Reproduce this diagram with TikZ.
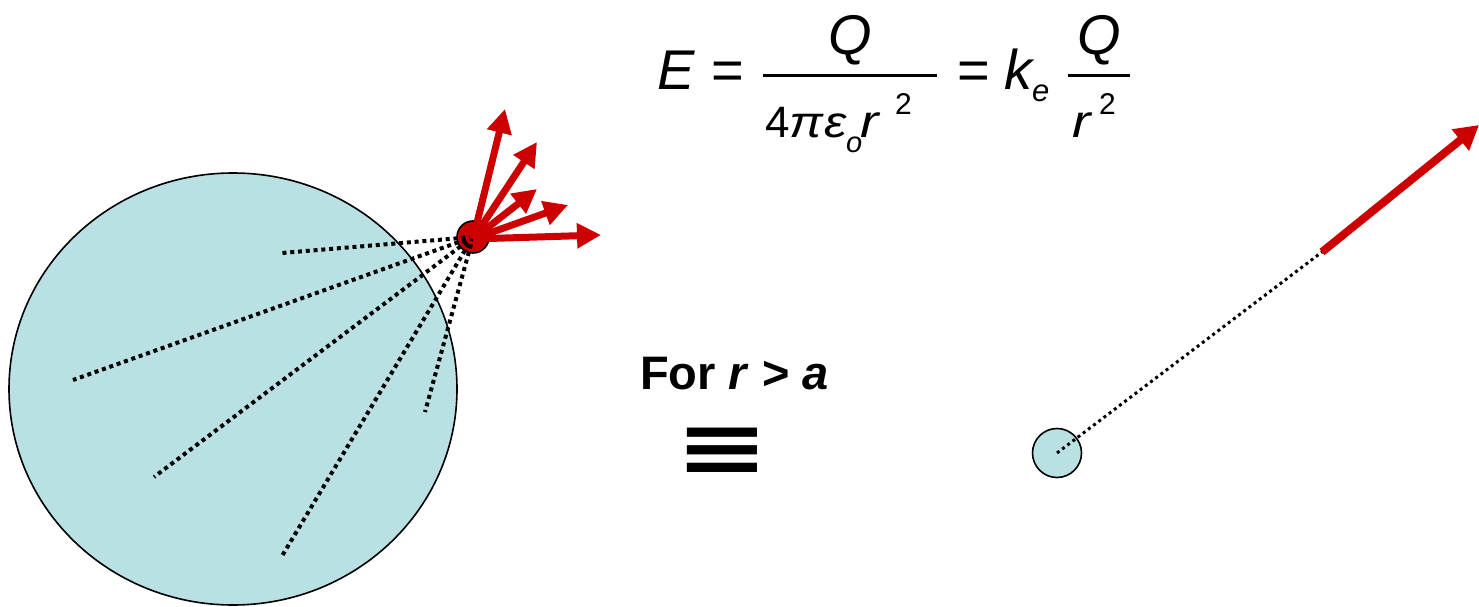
\documentclass[tikz,border=0pt]{standalone}
\usepackage{graphicx}
\usepackage{fontspec}
\setmainfont{Liberation Sans}
\newfontfamily\symfont{DejaVu Sans}
\usetikzlibrary{arrows.meta,shapes.geometric}
\definecolor{ball}{RGB}{185,224,227}
\definecolor{fieldred}{RGB}{204,0,0}
\newcommand\wideit[2]{\scalebox{#1}[1]{\textit{#2}}}
\tikzset{
  ballshape/.style={draw=black, line width=1.6pt, fill=ball},
  fieldline/.style={draw=black, line width=4pt, dash pattern=on 4pt off 3.8pt},
  fieldarrow/.style={draw=fieldred, line width=7pt, -{Triangle[length=24pt,width=24pt]}},
  eqbig/.style={inner sep=0pt, anchor=base, font=\fontsize{56}{60}\selectfont\itshape},
  eqmid/.style={inner sep=0pt, anchor=base west, font=\fontsize{44}{46}\selectfont},
  eqsmall/.style={inner sep=0pt, anchor=base west, font=\fontsize{30}{32}\selectfont},
  eqsign/.style={inner sep=0pt, font=\fontsize{56}{60}\selectfont},
  fracbar/.style={draw=black, line width=3pt},
}
\begin{document}
\begin{tikzpicture}[x=1pt,y=-1pt]
\useasboundingbox (0,0) rectangle (1479,607);
% big sphere
\node[ballshape, ellipse, minimum width=448pt, minimum height=432pt, inner sep=0pt] (sphere) at (233,389) {};
% test charge
\node[circle, draw=black, line width=1.6pt, fill=fieldred, minimum size=32pt, inner sep=0pt] (q) at (473,237) {};
% field lines from sphere elements
\coordinate (d1) at (282,253);
\coordinate (d2) at (73,380);
\coordinate (d3) at (154,477);
\coordinate (d4) at (282,556);
\coordinate (d5) at (425,412);
\foreach \d in {d1,d2,d3,d4,d5} \draw[fieldline] (q.center) -- (\d);
% field vectors
\coordinate (a1) at (505,109);
\coordinate (a2) at (537,142);
\coordinate (a3) at (537,189);
\coordinate (a4) at (568,205);
\coordinate (a5) at (601,235);
\foreach \a in {a1,a2,a3,a4,a5} \draw[fieldarrow] ([yshift=-2pt]q.center) -- (\a);
% equation  E = Q/(4 pi eps_o r^2) = k_e Q/r^2
\node[eqbig] (eE) at (676,90) {E};
\node[eqsign] (eq1) at (728,76) {=};
\coordinate (b1l) at (763,76);
\coordinate (b1r) at (937,76);
\draw[fracbar] (b1l) -- (b1r);
\node[eqbig] (eQ1) at (850,55) {Q};
\node[eqmid] (eden) at (765,137) {4\wideit{1.15}{π}\wideit{1.15}{ε}};
\node[eqsmall, font=\fontsize{29}{32}\selectfont\itshape] (eo) at (846,152) {o};
\node[eqmid, font=\fontsize{46}{48}\selectfont] (er1) at (860,137) {\wideit{1.2}{r}};
\node[eqsmall] (e21) at (895,115) {2};
\node[eqsign] (eq2) at (974,76) {=};
\node[eqbig, anchor=base west] (ek) at (1004,90) {k};
\node[eqsmall, font=\fontsize{31}{32}\selectfont\itshape] (ee) at (1032,102) {e};
\coordinate (b2l) at (1068,76);
\coordinate (b2r) at (1130,76);
\draw[fracbar] (b2l) -- (b2r);
\node[eqbig] (eQ2) at (1099,55) {Q};
\node[eqmid, font=\fontsize{46}{48}\selectfont] (er2) at (1072,137) {\wideit{1.2}{r}};
\node[eqsmall] (e22) at (1099,115) {2};
% text
\node[anchor=base west, inner sep=0pt] (cond) at (640,389) {\fontsize{47}{50}\selectfont\bfseries For \textit{r} > \textit{a}};
\node[inner sep=0pt] (equiv) at (722,452) {\scalebox{1}[0.72]{\symfont\bfseries\fontsize{112}{112}\selectfont ≡}};
% point charge equivalent
\node[ballshape, circle, minimum size=49pt, inner sep=0pt] (small) at (1057,453) {};
\coordinate (mid) at (1322,252);
\coordinate (tip) at (1479,125);
\draw[fieldline, line width=3pt, dash pattern=on 3pt off 3.5pt] (small.center) -- (mid);
\draw[draw=fieldred, line width=8pt, -{Triangle[length=24pt,width=26pt]}] (mid) -- (tip);
\end{tikzpicture}
\end{document}
